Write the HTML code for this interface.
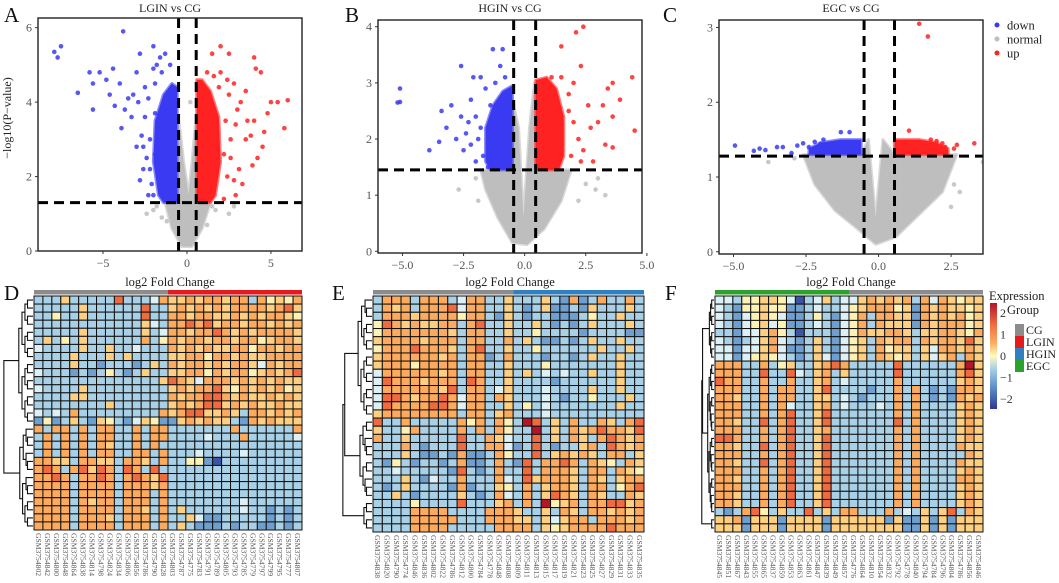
<!DOCTYPE html>
<html><head><meta charset="utf-8"><style>
html,body{margin:0;padding:0;background:#fff;}
svg{display:block;font-family:"Liberation Serif",serif;}
</style></head><body>
<svg id="fig" width="1059" height="583" viewBox="0 0 1059 583" xmlns="http://www.w3.org/2000/svg"></svg>
<script>
// ---------- Volcano data ----------
const aBluePts=[[-7.9,5.35],[-7.5,5.5],[-7.7,5.2],[-6.5,4.25],[-5.8,4.8],[-5.6,4.5],[-5.6,3.8],[-5.2,4.8],[-4.8,4.6],[-4.4,4.9],[-3.8,5.9],[-4.6,4.2],[-4.3,3.9],[-3.9,3.3],[-3.5,4.1],[-3.0,4.8],[-2.8,5.3],[-2.0,5.5],[-1.8,5.0],[-1.3,5.3],[-1.6,5.2],[-3.3,3.6],[-3.0,2.8],[-2.7,3.1],[-2.5,4.4],[-2.4,2.5],[-2.3,1.5],[-2.8,1.9],[-3.2,4.2],[-2.0,4.9],[-1.5,4.8],[-1.0,5.0],[-3.7,3.8],[-2.6,2.2],[-2.1,1.8],[-1.9,2.6],[-4.0,4.5],[-2.2,3.0],[-2.5,3.6],[-2.9,4.0],[-2.3,4.1],[-1.9,4.5],[-2.6,2.8],[-2.2,2.2],[-2.0,1.5],[-1.9,3.7]];
const aRedPts=[[2.0,5.5],[1.5,5.3],[2.5,5.3],[4.0,5.2],[4.4,4.8],[4.1,4.9],[5.0,4.0],[5.4,4.0],[6.0,4.05],[5.8,3.3],[4.8,3.7],[4.2,2.5],[3.5,3.0],[3.1,2.2],[2.9,1.5],[1.2,4.8],[2.8,4.5],[3.5,4.3],[3.0,3.8],[2.5,4.2],[3.8,3.1],[4.5,2.8],[3.3,1.8],[2.2,1.4],[2.4,2.0],[3.6,3.5],[4.0,3.5],[2.6,2.5],[1.6,4.7],[3.2,4.0],[4.6,3.2],[2.8,1.9],[3.9,2.3],[2.0,4.8],[2.3,3.5],[2.6,3.0],[2.2,2.6],[2.9,3.4],[2.4,4.6],[1.9,4.4]];
const aGrayPts=[[-2,1.1],[-1.5,0.9],[1.7,1.1],[2.5,1.0],[-1.2,0.8],[1.2,0.7],[0.2,4.0],[-2.4,1.0],[2.8,1.2],[-1.8,1.2],[1.5,1.2]];
const aBlueCloud=[[-0.58,1.3],[-0.58,4.4],[-0.9,4.5],[-1.4,4.2],[-1.9,3.5],[-2.0,2.4],[-1.7,1.5],[-1.4,1.3]];
const aRedCloud=[[0.58,1.3],[0.58,4.6],[0.9,4.6],[1.4,4.3],[1.9,3.6],[2.0,2.4],[1.7,1.5],[1.4,1.3]];
const aGrayCloud=[[-1.3,1.3],[-0.58,1.3],[-0.45,3.4],[-0.2,2.4],[0.1,1.5],[0.3,2.4],[0.5,3.4],[0.58,1.3],[1.4,1.3],[0.9,0.6],[0.3,0.12],[-0.3,0.12],[-0.9,0.6]];

const bBluePts=[[-5.1,2.9],[-5.2,2.65],[-5.1,2.66],[-3.9,1.8],[-3.5,1.95],[-3.4,2.5],[-3.0,2.6],[-2.6,3.3],[-2.3,2.3],[-2.1,3.1],[-1.8,3.1],[-1.3,3.6],[-0.9,3.6],[-1.0,3.3],[-1.2,3.0],[-2.8,2.0],[-2.5,1.8],[-2.0,1.6],[-2.2,2.7],[-1.6,2.9],[-1.5,1.5],[-3.2,2.2],[-2.6,2.4],[-1.9,2.0],[-0.8,3.1],[-1.4,2.6],[-2.4,2.1],[-1.7,1.7],[-2.0,2.4],[-1.8,2.2],[-2.2,1.9]];
const bRedPts=[[2.1,3.9],[2.4,4.0],[1.5,3.65],[2.3,3.3],[4.4,3.1],[3.4,2.9],[3.6,3.0],[3.9,2.7],[4.5,2.15],[3.6,2.4],[3.3,1.9],[2.8,1.6],[2.6,2.6],[3.0,2.3],[2.2,2.0],[1.8,2.5],[2.0,3.0],[1.5,3.1],[1.1,3.1],[3.2,2.6],[2.4,1.8],[3.6,1.85],[2.7,2.2],[1.9,1.7],[2.0,2.3],[1.8,2.8],[2.3,1.6]];
const bGrayPts=[[-2.7,1.1],[2.9,1.1],[3.3,1.0],[2.2,0.9],[-2.0,1.3],[3.0,1.3],[-1.9,0.9],[2.5,1.2]];
const bBlueCloud=[[-0.5,1.45],[-0.5,2.95],[-0.9,2.85],[-1.3,2.6],[-1.6,2.2],[-1.6,1.6],[-1.4,1.45]];
const bRedCloud=[[0.45,1.45],[0.45,3.05],[0.9,3.1],[1.3,2.9],[1.6,2.4],[1.6,1.7],[1.4,1.45]];
const bGrayCloud=[[-1.8,1.45],[-0.5,1.45],[-0.45,2.6],[-0.25,2.2],[-0.05,0.6],[0.2,2.2],[0.4,3.0],[0.45,1.45],[1.9,1.45],[1.5,0.9],[0.8,0.4],[0.1,0.12],[-0.5,0.15],[-1.1,0.6],[-1.6,1.1]];

const cBluePts=[[-4.95,1.42],[-4.3,1.35],[-4.1,1.38],[-3.9,1.36],[-3.5,1.4],[-3.3,1.4],[-2.8,1.42],[-2.6,1.45],[-2.2,1.47],[-1.9,1.5],[-1.3,1.6],[-1.0,1.6],[-3.0,1.32],[-2.4,1.4],[-2.0,1.44]];
const cRedPts=[[1.4,3.05],[1.7,2.88],[1.05,1.62],[3.3,1.45],[2.7,1.43],[2.3,1.4],[2.0,1.48],[2.6,1.38],[1.8,1.5],[2.2,1.45]];
const cGrayPts=[[3.6,1.2],[-2.9,1.25],[2.8,0.8],[2.5,0.6],[-3.8,1.2],[2.2,1.0],[2.6,0.9]];
const cBlueCloud=[[-0.6,1.3],[-0.6,1.5],[-1.3,1.5],[-2.0,1.46],[-2.4,1.38],[-2.4,1.3]];
const cRedCloud=[[0.55,1.3],[0.55,1.5],[1.4,1.5],[2.0,1.46],[2.4,1.38],[2.4,1.3]];
const cGrayCloud=[[-2.6,1.3],[-0.6,1.3],[-0.35,1.5],[-0.1,0.45],[0.15,1.5],[0.55,1.3],[2.7,1.3],[2.2,0.8],[1.4,0.5],[0.6,0.2],[-0.1,0.1],[-0.7,0.3],[-1.5,0.55],[-2.2,0.9]];

const aXTicks=[-5,0,5], aYTicks=[0,2,4,6];
const bXTicks=[-5,-2.5,0,2.5,5], bYTicks=[0,1,2,3,4];
const cXTicks=[-5,-2.5,0,2.5], cYTicks=[0,1,2,3];

// ---------- Heatmap data (level codes a..i = -2.5 .. 2.5) ----------
const dSamples=["802","842","800","848","864","838","814","798","824","834","806","856","786","790","828","803","787","775","783","791","789","805","793","785","779","797","799","795","777","807"];
const dGroups=["CG",15,"LGIN",15];
const dRows=[
"cccfc cccch cccdg ffgfg gfggc gefeg","ccccc fcccc cchcc fgfgf gfggg gfghf","ccecc fcccc cchcc ggfgg ffgfg fggfe","ccccc ccccc ccfdc gghgh fggfg gfgfg","ccccc fcccc ccfcd ggfgg hgfgf ggggf","cfcec fcccc ccgce gfggf ggfgg efggf","dcccc fccfc cdccc gfgfg ffgge ggfgg","ccccf cccfc fcccc ffgge ggfgf fgggg","ccccf ccbcc cbcfc gfggf gfggf dgfgg","dcccb cbcec bcfcc ffgge gfgge fgfgh","ccccc ccccc ccccf hgfdg ggfgf gfgff","dcccc fcccc ccccc fgfgg hfegf gfgef","ccccf fcccc ccccc gfggh hgfgf fgfgf","ccccc cccfc ccccc fgfgh hfgfg ffgff","dcdcg ccccc ccccg fghhf fgfcg gfgfg","bebcf cbfec bdfeb bfgfg ffcbg fgfff","gcggc gcggc cgcgg ccccc ccgcc ccccg","cgcgc gcggc cgcgg ccccd cccgc ccccd","cgcgc gcgfc cgcgc ccccc ccccc ccccc","cgcgc gcggc cggcg cccdc cccdc ccccc","ggffc ggffc ggfcg cceeb acccc ccccc","ghgcg hfhgc hgchc ccccc ccccc ccccc","gghgc gghgc ghgfh ccccc ccccc ccccc","ggggc ggggc gggfg ccccc ccccc ccccc","ggggc ggggc gggcg ccccc ccccc ccccc","ggggc gfggc gggcg ccccc cccdc ccccc","ggggc ggggc ggfcg cfccc cccdc cbcbc","ggggc gggfc gggcg ccfdb bcccc cbcbc","ggggc ggggc gggcg cfcbb bcbcc bbcbc"];
const eSamples=["838","820","790","774","846","836","802","822","786","812","800","784","778","848","808","809","811","813","815","817","819","821","823","825","827","829","831","833","835"];
const eGroups=["CG",15,"HGIN",14];
const eRows=[
"cgggc gggcd ggccf cccfc bgbcg ccgc","cgfgc ggghd ggccf cbcfb bcbfc ccfc","cgggf gggge ggcbf cbccb bbcec cfcc","ehgfg ffggc ghccf ccfcb cbcfc ccfc","egggg gggfc ggccf ccecc ccbcc ccbb","fgggg fgggc ggccg cfcbb cbcfc cfcc","egggh gggfc ghccf ccecc ccccf ccfc","fgggg ggfgc ggbcg cccbc cbcfc cfcc","fggge ggggc ggccf cccec ccccc cfcc","dgggg ggfgc ggccf cfcdc dccfc cfcc","dhggg fgggc hgccf ccccb ccccc cfcc","dgggg ggfhc ggcdf cccdc cccfc cfcc","dhhgf gghgd ggcgf cccdc bccec ccfc","dhggg ghhgd ggccf cecdc ccccc cfcc","fgggg ggggc ggcfg cccdc ccccc cccc","hccgc ccccg egcge cihcf cgccg fcgh","fcceg ccccg cgcge ccicf cgfgh ggfh","gccfc cccch ccgfd cchcf cgfcg hgfg","cccgc bccch ccggd bchcb ccfgc hgfg","cccfc bbcbg bbcge cchcf gfgfc ggcf","cbecb ccbcg bbcgc bhcgg hgcgf ecgf","ccdcc cccbh cbcgc chcgg gfcgg cgfe","cccfc bdccg cccgd chfgg gfcgf cfgg","cbcfc cccbg bccfe cgcfg gfcgg cegh","ccfcb ccccf cbcgd cgcfh gfcgf ccgf","cccce cccch cccfg cgcie fgcgg hhfg","ccccg gggcc ccggg fccfc gfcgg fgfg","ccccg ggggc ccggg ffcfd fggcg ggfg","ccccg gggcc cccgg ggcfe fgggg hggg"];
const fSamples=["845","851","867","843","855","865","837","859","853","863","861","847","839","849","857","776","864","810","854","832","792","778","840","794","784","796","804","786","856","846"];
const fGroups=["EGC",15,"CG",15];
const fRows=[
"ddcee ffeda cdfcd dfgfg fgcgd gfeff","dcbee feebb cdccd efggg efbgf gffef","dcbde fedbb cecbd egcgg ffbgf gfgef","dcbde fdebb cdcbd egcgf ffbgf gggef","ccbdd fgeca cccbd egffg gfcff ggfeg","dcbcd fgdcb cfcbd efcgf ggcgf ggfhf","ddbdd fgdbb cfcbd efcge ffcfd ggfgf","ddbde fedcb cfdbd efcgf efcfd fgcgf","gggcc gcefc cfghg ccccc hcccc ccgif","gggcc hcchd cfgcf ccccc hcccc ccghf","hggcc gccgc cfgcd ccccc gcccc ccfgf","gggcc gcggc cfhcc ccbcc gcgcb cbggf","ggfcc gcggc cffcd cbccc gcgcb cbgfg","gggcc gcgdc cfgcd cccdc gcgcc ccfgf","gggcc gcghc cfhcc ccccc gcgcc ccfgf","ggfcc hcghc cfhcc ccccc hcgcc ccfgf","gggcc gcghc cfgcc ccccc gcgcc ccfgf","hhgcc gcghc cfhcc ccccc gcgcc ccfgf","ggfcc hcghc cfhcc ccccc gcgcc ccgff","gggcc gcghc cfhcc ccccc gcgcc cccgf","ggfcc hcghc cfhcc ccccc gcgcc ccgff","gggcc gcghc cfhcc ccccc gcgcc ccfgf","ggfcc gcghc cfhcc ccccc gcgcc ccggf","gggcc gcghc cfhcc ccccc gcgcc ccfgf","ggfcc gcghc cfhcc ccccc gcgcc ccfgf","ggfcc gcghc cfhcc ccccc gcgcc ccfgf","cbcgh ecfcc hcfcg gcccg cdcfc fhcgf","ffgbf ffbff ffbff ffffb fbbfb fbfff","fffbf ffbff ffbff fffff fbbfb fbfff"];
const colorTicks=[2,1,0,-1,-2];
const groupNames=["CG","LGIN","HGIN","EGC"];

// ---------- drawing ----------
const NS="http://www.w3.org/2000/svg";
const svg=document.getElementById('fig');
function el(tag,attrs,parent){const e=document.createElementNS(NS,tag);for(const k in attrs)e.setAttribute(k,attrs[k]);(parent||svg).appendChild(e);return e;}
function txt(s,attrs,parent){const t=el('text',attrs,parent);t.textContent=s;return t;}
const levelColor={a:"#3b54a3",b:"#6e9fcf",c:"#a8d0e6",d:"#dcf0f6",e:"#fdf2b3",f:"#fecf80",g:"#fbaa5e",h:"#f06a40",i:"#b3152a"};
const groupColor={CG:"#8c8c8c",LGIN:"#e41a1c",HGIN:"#2f7fc1",EGC:"#2ea02e"};
const fmt=(v,dec)=>{const s=dec?Math.abs(v).toFixed(1):String(Math.abs(v));return (v<0?"−":"")+s;};

function volcano(o){
  const g=el('g',{});
  
  
  const X=v=>o.x0+(v-o.xmin)*(o.x1-o.x0)/(o.xmax-o.xmin);
  const Y=v=>o.y1-(v-o.ymin)*(o.y1-o.y0)/(o.ymax-o.ymin);
  const clip=el('clipPath',{id:o.name+'-clip'},g);el('rect',{x:o.x0,y:o.y0,width:o.x1-o.x0,height:o.y1-o.y0},clip);
  const inner=el('g',{'clip-path':'url(#'+o.name+'-clip)'},g);
  const poly2=(pts,fill,nm)=>{const p=el('polygon',{points:pts.map(p=>X(p[0])+','+Y(p[1])).join(' '),fill:fill,stroke:fill,'stroke-width':3,'stroke-opacity':0.6,'stroke-linejoin':'round'},inner);};
  poly2(o.grayCloud,"#bebebe","normal-cloud");
  poly2(o.blueCloud,"#3a3af2","down-cloud");
  poly2(o.redCloud,"#ff2222","up-cloud");
  const dots=(pts,fill,nm)=>pts.forEach(p=>{const c=el('circle',{cx:X(p[0]),cy:Y(p[1]),r:2.3,fill:fill,'fill-opacity':0.85},inner);});
  dots(o.grayPts,"#bebebe","normal-point");dots(o.bluePts,"#3a3af2","down-point");dots(o.redPts,"#ff2222","up-point");
  const dl={stroke:"#000",'stroke-width':3,'stroke-dasharray':'10,6',fill:'none'};
  let l=el('line',Object.assign({x1:o.x0,x2:o.x1,y1:Y(o.pthr),y2:Y(o.pthr)},dl),inner);
  o.fcthr.forEach(f=>{const v=el('line',Object.assign({x1:X(f),x2:X(f),y1:o.y0,y2:o.y1},dl),inner);});
  const fr=el('rect',{x:o.x0,y:o.y0,width:o.x1-o.x0,height:o.y1-o.y0,fill:'none',stroke:'#222','stroke-width':1.4},g);
  
  o.xt.forEach(v=>{el('line',{x1:X(v),x2:X(v),y1:o.y1,y2:o.y1+3,stroke:'#333'},g);const t=txt(fmt(v,o.dec),{x:X(v),y:o.y1+16,'text-anchor':'middle','font-size':12,fill:'#555'},g);});
  o.yt.forEach(v=>{el('line',{x1:o.x0-3,x2:o.x0,y1:Y(v),y2:Y(v),stroke:'#333'},g);const t=txt(String(v),{x:o.x0-6,y:Y(v)+4,'text-anchor':'end','font-size':12,fill:'#555'},g);});
  const ti=txt(o.title,{x:(o.x0+o.x1)/2,y:12,'text-anchor':'middle','font-size':12,fill:'#222'},g);
  const xl=txt('log2 Fold Change',{x:(o.x0+o.x1)/2,y:286,'text-anchor':'middle','font-size':12.5,fill:'#222'},g);
}
volcano({name:'volcano-lgin',x0:38,x1:302,y0:18,y1:251,xmin:-8.87,xmax:6.85,ymin:0,ymax:6.26,title:'LGIN vs CG',xt:aXTicks,yt:aYTicks,pthr:1.3,fcthr:[-0.5,0.55],bluePts:aBluePts,redPts:aRedPts,grayPts:aGrayPts,blueCloud:aBlueCloud,redCloud:aRedCloud,grayCloud:aGrayCloud,dec:false});
volcano({name:'volcano-hgin',x0:378,x1:642,y0:20,y1:253,xmin:-6.0,xmax:4.8,ymin:-0.03,ymax:4.12,title:'HGIN vs CG',xt:bXTicks,yt:bYTicks,pthr:1.45,fcthr:[-0.45,0.45],bluePts:bBluePts,redPts:bRedPts,grayPts:bGrayPts,blueCloud:bBlueCloud,redCloud:bRedCloud,grayCloud:bGrayCloud,dec:true});
volcano({name:'volcano-egc',x0:719,x1:983,y0:20,y1:254,xmin:-5.5,xmax:3.6,ymin:-0.03,ymax:3.1,title:'EGC vs CG',xt:cXTicks,yt:cYTicks,pthr:1.28,fcthr:[-0.5,0.55],bluePts:cBluePts,redPts:cRedPts,grayPts:cGrayPts,blueCloud:cBlueCloud,redCloud:cRedCloud,grayCloud:cGrayCloud,dec:true});
const yt=txt('−log10(P−value)',{x:0,y:0,transform:'translate(11,118) rotate(-90)','text-anchor':'middle','font-size':12,fill:'#222'});

[["down","#3a3af2",25],["normal","#bebebe",39],["up","#ff2222",53]].forEach(d=>{
  const c=el('circle',{cx:997,cy:d[2],r:2.5,fill:d[1]});
  const t=txt(d[0],{x:1007,y:d[2]+4.5,'font-size':12.5,fill:'#222'});
});

function dendro(g,x0,x1,yTop,rh,n,splits){
  function node(lo,hi){
    if(hi-lo===1)return {y:yTop+(lo+0.5)*rh,x:x1};
    const mid=Math.floor((lo+hi)/2);
    const a=node(lo,mid),b=node(mid,hi);
    const x=x1-(x1-x0)*0.55*Math.log2(hi-lo+1)/Math.log2(n+1);
    el('path',{d:`M${a.x},${a.y}H${x}V${b.y}H${b.x}`,fill:'none',stroke:'#111','stroke-width':1.1},g);
    return {x:x,y:(a.y+b.y)/2};
  }
  const parts=[];let prev=0;splits.concat([n]).forEach(s=>{parts.push(node(prev,s));prev=s;});
  let cur=parts[0];
  for(let k=1;k<parts.length;k++){
    const x=x0+(x1-x0)*0.06*(parts.length-k);
    el('path',{d:`M${cur.x},${cur.y}H${x}V${parts[k].y}H${parts[k].x}`,fill:'none',stroke:'#111','stroke-width':1.1},g);
    cur={x:x,y:(cur.y+parts[k].y)/2};
  }
}

function heatmap(o){
  const g=el('g',{});
  
  
  const rows=o.rows.map(r=>r.replace(/ /g,''));
  const nr=rows.length,nc=o.samples.length;
  const cw=(o.x1-o.x0)/nc,rh=(o.y1-o.y0)/nr;
  let col=0;
  for(let k=0;k<o.groups.length;k+=2){
    const gb=el('rect',{x:o.x0+col*cw,y:o.y0-6,width:o.groups[k+1]*cw,height:4.5,fill:groupColor[o.groups[k]]},g);
    
    col+=o.groups[k+1];
  }
  rows.forEach((r,i)=>{for(let j=0;j<nc;j++){
    const c=el('rect',{x:o.x0+j*cw,y:o.y0+i*rh,width:cw,height:rh,fill:levelColor[r[j]]||'#a8d0e6',stroke:'#111','stroke-width':1},g);
    
  }});
  o.samples.forEach((s,j)=>{
    const x=o.x0+(j+0.5)*cw-2.5;
    const t=txt('GSM3754'+s,{x:0,y:0,transform:`translate(${x},${o.y1+3}) rotate(90)`,'font-size':7.6,fill:'#555'},g);
    
  });
  const dg=el('g',{},g);
  dendro(dg,o.dx0,o.x0-1,o.y0,rh,nr,o.splits);
}
heatmap({name:'heatmap-lgin',x0:34,x1:302,y0:296,y1:530,rows:dRows,samples:dSamples,groups:dGroups,dx0:2,splits:[16]});
heatmap({name:'heatmap-hgin',x0:373,x1:644,y0:296,y1:532,rows:eRows,samples:eSamples,groups:eGroups,dx0:341,splits:[15,25]});
heatmap({name:'heatmap-egc',x0:715,x1:983,y0:296,y1:532,rows:fRows,samples:fSamples,groups:fGroups,dx0:701,splits:[8,27]});

[["A",4,22],["B",345,22],["C",663,22],["D",4,300],["E",332,300],["F",665,300]].forEach(p=>{
  const t=txt(p[0],{x:p[1],y:p[2],'font-size':21,fill:'#111'});
});

const defs=el('defs',{});
const lg=el('linearGradient',{id:'expr-grad',x1:0,y1:0,x2:0,y2:1},defs);
[["0","#b3152a"],["0.2","#f06a40"],["0.38","#fdae61"],["0.5","#fffbc0"],["0.62","#a8d0e6"],["0.8","#5b8ec8"],["1","#313695"]].forEach(s=>el('stop',{offset:s[0],'stop-color':s[1]},lg));
const et=txt('Expression',{x:989,y:300,'font-size':12.5,fill:'#222'});
const cb=el('rect',{x:990,y:303,width:7,height:106,fill:'url(#expr-grad)'});
const cbY=v=>356-v*21.5;
colorTicks.forEach(v=>{const t=txt(fmt(v,false),{x:1000,y:cbY(v)+4,'font-size':12,fill:'#333'});});
const gt=txt('Group',{x:1007,y:314,'font-size':12.5,fill:'#222'});
groupNames.forEach((n,k)=>{
  const r=el('rect',{x:1015,y:324+k*12,width:9,height:12,fill:groupColor[n]});
  const t=txt(n,{x:1026,y:334+k*12,'font-size':12,fill:'#222'});
});
</script>
</body></html>
